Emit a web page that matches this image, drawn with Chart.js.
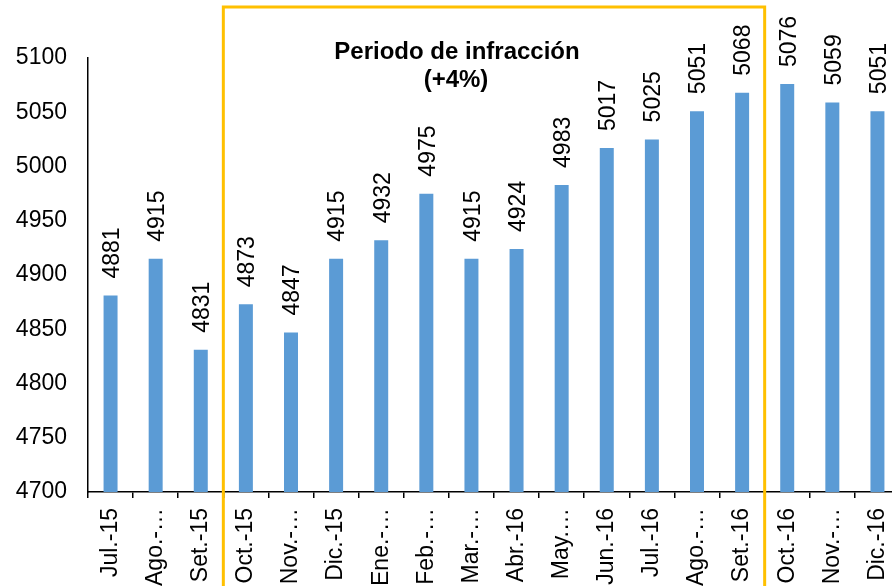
<!DOCTYPE html>
<html>
<head>
<meta charset="utf-8">
<script src="https://cdn.jsdelivr.net/npm/chart.js@4.4.1/dist/chart.umd.min.js"></script>
<style>
    html, body { margin: 0; padding: 0; background: #fff; overflow: hidden; }
    #wrap { width: 900px; height: 586px; }
</style>
</head>
<body>
<div id="wrap"><canvas id="barChart" width="900" height="586"></canvas></div>
<script>
const months = [
    "Jul.-15", "Ago.-…", "Set.-15", "Oct.-15", "Nov.-…", "Dic.-15",
    "Ene.-…", "Feb.-…", "Mar.-…", "Abr.-16", "May.…", "Jun.-16",
    "Jul.-16", "Ago.-…", "Set.-16", "Oct.-16", "Nov.-…", "Dic.-16",
];
const values = [
    4881, 4915, 4831, 4873, 4847, 4915,
    4932, 4975, 4915, 4924, 4983, 5017,
    5025, 5051, 5068, 5076, 5059, 5051,
];
const periodStart = 3; // Oct.-15
const periodEnd = 14;  // Set.-16
const periodTitle = ["Periodo de infracción", "(+4%)"];

const FONT = "'Liberation Sans', Arial, sans-serif";

// value labels, rotated above each bar
const barLabels = {
    id: "barLabels",
    afterDatasetsDraw(chart) {
        const ctx = chart.ctx;
        const meta = chart.getDatasetMeta(0);
        ctx.save();
        ctx.fillStyle = "#000";
        ctx.font = "23px " + FONT;
        ctx.textAlign = "left";
        ctx.textBaseline = "middle";
        meta.data.forEach((bar, i) => {
            ctx.save();
            ctx.translate(bar.x + 2, bar.y - 17);
            ctx.rotate(-Math.PI / 2);
            ctx.fillText(String(values[i]), 0, 0);
            ctx.restore();
        });
        ctx.restore();
    },
};

// orange frame around the infraction period + caption
const periodBox = {
    id: "periodBox",
    afterDraw(chart) {
        const ctx = chart.ctx;
        const x = chart.scales.x;
        const left = (x.getPixelForValue(periodStart - 1) + x.getPixelForValue(periodStart)) / 2;
        const right = (x.getPixelForValue(periodEnd) + x.getPixelForValue(periodEnd + 1)) / 2;
        ctx.save();
        ctx.strokeStyle = "#FFC000";
        ctx.lineWidth = 3;
        ctx.beginPath();
        ctx.moveTo(left, chart.height + 10);
        ctx.lineTo(left, 7);
        ctx.lineTo(right, 7);
        ctx.lineTo(right, chart.height + 10);
        ctx.stroke();

        ctx.fillStyle = "#000";
        ctx.font = "bold 24px " + FONT;
        ctx.textAlign = "center";
        ctx.textBaseline = "middle";
        ctx.fillText(periodTitle[0], 457, 52);
        ctx.fillText(periodTitle[1], 456, 80);
        ctx.restore();
    },
};

new Chart(document.getElementById("barChart"), {
    type: "bar",
    data: {
        labels: months,
        datasets: [
            {
                data: values,
                backgroundColor: "#5B9BD5",
                barPercentage: 0.31,
                categoryPercentage: 1,
            },
        ],
    },
    options: {
        responsive: false,
        animation: false,
        layout: { padding: { left: 14, top: 58, right: 0, bottom: 0 } },
        plugins: {
            legend: { display: false },
            tooltip: { enabled: false },
        },
        scales: {
            x: {
                border: { display: true, color: "#000", width: 1.5 },
                grid: {
                    drawOnChartArea: false,
                    drawTicks: true,
                    tickLength: 6,
                    color: "#000",
                    lineWidth: 1.5,
                },
                ticks: {
                    color: "#000",
                    font: { family: FONT, size: 23 },
                    minRotation: 90,
                    maxRotation: 90,
                    autoSkip: false,
                    padding: 10,
                },
                afterFit: (s) => {
                    s.paddingLeft = 0;
                    s.paddingRight = 0;
                    s.height = 94;
                },
            },
            y: {
                min: 4700,
                max: 5100,
                border: { display: true, color: "#000", width: 1.5 },
                grid: { display: false, drawTicks: false },
                ticks: {
                    stepSize: 50,
                    color: "#000",
                    font: { family: FONT, size: 23 },
                    padding: 21,
                    callback: (v) => String(v),
                },
                afterFit: (s) => {
                    s.width = 74;
                },
            },
        },
    },
    plugins: [barLabels, periodBox],
});
</script>
</body>
</html>
